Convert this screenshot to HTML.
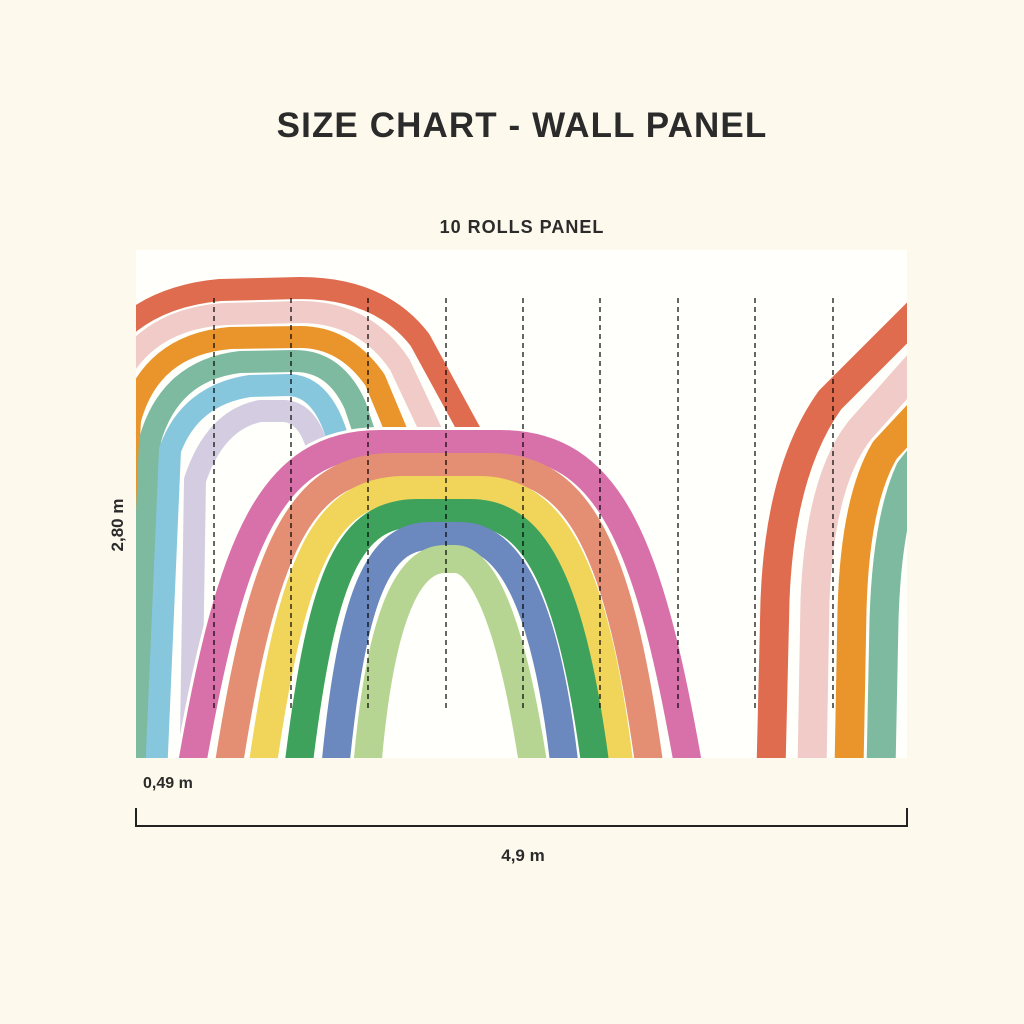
<!DOCTYPE html>
<html><head><style>
html,body{margin:0;padding:0;background:#fdf9ec;}
svg{display:block}
text{font-family:"Liberation Sans",sans-serif;fill:#2b2b2b;font-weight:bold}
</style></head><body>
<svg width="1024" height="1024" viewBox="0 0 1024 1024">
<rect width="1024" height="1024" fill="#fdf9ec"/>
<text x="522" y="137" text-anchor="middle" font-size="35" letter-spacing="1.1">SIZE CHART - WALL PANEL</text>
<text x="522" y="233" text-anchor="middle" font-size="18" letter-spacing="1">10 ROLLS PANEL</text>
<defs><clipPath id="c"><rect x="136" y="250" width="771" height="508"/></clipPath></defs>
<rect x="136" y="250" width="771" height="508" fill="#fffffc"/>
<g clip-path="url(#c)" fill="none" stroke-linejoin="round">
<g stroke-width="22">
<path stroke="#df6c4f" d="M60,800 L80,400 Q110,300 220,290 L300,288 Q380,288 420,340 L480,450"/>
<path stroke="#f0cbc7" d="M85,800 L105,410 Q130,320 225,314 L300,312 Q365,312 400,365 L440,450"/>
<path stroke="#e9952c" d="M110,800 L130,420 Q150,345 230,338 L300,337 Q345,337 375,380 L400,440"/>
<path stroke="#7dbaa0" d="M135,800 L150,440 Q170,370 240,362 L295,361 Q335,361 355,405 L370,450"/>
<path stroke="#86c7de" d="M155,800 L170,450 Q190,395 250,386 L290,385 Q320,387 335,430 L345,460"/>
<path stroke="#d4cde2" d="M190,800 L195,480 Q215,420 260,411 L285,411 Q305,413 315,440 L325,470"/>
</g>
<g stroke-width="34" stroke="#fffffc">
<path d="M191,770 C231,540 271,444 380,444 L500,444 C609,444 649,540 689,770"/>
</g>
<g stroke-width="28">
<path stroke="#d871a9" d="M191,770 C231,540 271,444 380,444 L500,444 C609,444 649,540 689,770"/>
<path stroke="#e48e73" d="M228,770 C262,550 300,467 392,467 L490,467 C580,467 620,550 650,770"/>
<path stroke="#f0d55a" d="M262,770 C292,560 325,490 405,490 L480,490 C550,490 595,560 620,770"/>
<path stroke="#3ea25c" d="M298,770 C322,570 350,513 418,513 L470,513 C530,513 570,570 596,770"/>
<path stroke="#6b88bf" d="M335,770 C352,590 380,536 430,536 L460,536 C505,536 545,590 565,770"/>
<path stroke="#b7d592" d="M367,770 C380,610 410,559 445,559 L455,559 C480,559 510,610 534,770"/>
</g>
<g stroke-width="29">
<path stroke="#df6c4f" d="M771,770 L775,600 Q780,470 830,400 L930,300"/>
<path stroke="#f0cbc7" d="M812,770 L815,600 Q820,480 860,430 L940,340"/>
<path stroke="#e9952c" d="M849,770 L852,610 Q855,500 885,450 L950,380"/>
<path stroke="#7dbaa0" d="M881,770 L884,620 Q887,520 910,470 L950,420"/>
</g>
<g stroke="#000" stroke-width="1.2" stroke-dasharray="5,4">
<path d="M214,298V708M291,298V708M368,298V708M446,298V708M523,298V708M600,298V708M678,298V708M755,298V708M833,298V708"/>
</g>
</g>
<text transform="translate(123,525) rotate(-90)" text-anchor="middle" font-size="17">2,80 m</text>
<text x="143" y="788" font-size="16">0,49 m</text>
<path d="M136,808V826H907V808" fill="none" stroke="#222" stroke-width="2"/>
<text x="523" y="861" text-anchor="middle" font-size="17">4,9 m</text>
</svg>
</body></html>
